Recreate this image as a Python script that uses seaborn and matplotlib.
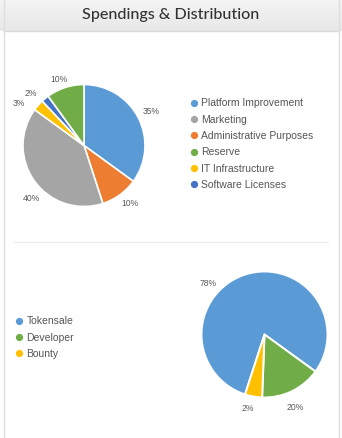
import numpy as np
import matplotlib
matplotlib.use("Agg")
import matplotlib.pyplot as plt
from matplotlib.lines import Line2D
import seaborn as sns

# ---- data ----
title = "Spendings & Distribution"

spend_labels = ["Platform Improvement", "Administrative Purposes", "Marketing",
                "IT Infrastructure", "Software Licenses", "Reserve"]
spend_values = [35, 10, 40, 3, 2, 10]
spend_colors = ["#5B9BD5", "#ED7D31", "#A5A5A5", "#FFC000", "#4472C4", "#70AD47"]
spend_legend_order = ["Platform Improvement", "Marketing", "Administrative Purposes",
                      "Reserve", "IT Infrastructure", "Software Licenses"]

dist_labels = ["Tokensale", "Developer", "Bounty"]
dist_values = [80, 15.6, 4.4]          # wedge sizes as drawn
dist_pct_text = ["78%", "20%", "2%"]   # labels as printed
dist_colors = ["#5B9BD5", "#70AD47", "#FFC000"]

# ---- layout ----
W, H, DPI = 342, 438, 100
sns.set_theme(style="white")
plt.rcParams['font.family'] = ['Liberation Sans', 'DejaVu Sans']

fig = plt.figure(figsize=(W / DPI, H / DPI), dpi=DPI)
fig.patch.set_facecolor("white")

def px_axes(x0, y0, w, h):
    return fig.add_axes([x0 / W, 1 - (y0 + h) / H, w / W, h / H])

# header with gradient
hax = px_axes(0, 0, W, 31)
grad = np.linspace(0, 1, 64).reshape(-1, 1)
hax.imshow(grad, aspect="auto", extent=[0, 1, 0, 1], cmap=matplotlib.colors.LinearSegmentedColormap.from_list(
    "g", ["#F4F4F4", "#E8E8E8"]), origin="upper")
hax.set_xlim(0, 1); hax.set_ylim(0, 1)
hax.axis("off")
hax.text(0.5, 0.5, title, ha="center", va="center", fontsize=11.6,
         color="#333333", family=["Lato", "DejaVu Sans"], fontweight="medium")

# overlay axes for lines
oax = px_axes(0, 0, W, H)
oax.set_xlim(0, W); oax.set_ylim(H, 0)
oax.axis("off")
oax.patch.set_alpha(0)
oax.plot([3.5, 3.5], [0, H], color="#DEDEDE", lw=1)
oax.plot([338.5, 338.5], [0, H], color="#DEDEDE", lw=1)
oax.plot([3.5, 338.5], [31, 31], color="#D8D8D8", lw=1)
oax.plot([14, 328], [241.5, 241.5], color="#EDEDED", lw=1)

def pie_axes(cx, cy, r, lim):
    size = 2 * lim * r
    ax = px_axes(cx - size / 2, cy - size / 2, size, size)
    return ax

# top pie
LIM = 1.3
ax1 = pie_axes(84, 145.5, 61, LIM)
ax1.pie(spend_values, colors=spend_colors, startangle=90, counterclock=False,
        wedgeprops=dict(edgecolor="white", linewidth=1.2))
ax1.set_xlim(-LIM, LIM); ax1.set_ylim(-LIM, LIM)
ax1.set_aspect("equal")
ax1.axis("off")
top_label_pos = [(1.10, 0.56), (0.75, -0.95), (-0.86, -0.87), (-1.07, 0.69), (-0.88, 0.86), (-0.41, 1.09)]
for v, (x, y) in zip(spend_values, top_label_pos):
    ax1.text(x, y, f"{v}%", ha="center", va="center", fontsize=6.2, color="#595959")

# top legend
cmap_sp = dict(zip(spend_labels, spend_colors))
handles = [Line2D([], [], marker="o", linestyle="", color=cmap_sp[l], markersize=4.2) for l in spend_legend_order]
leg1 = fig.legend(handles, spend_legend_order, loc="upper left",
                  bbox_to_anchor=(189.5 / W, 1 - 98.5 / H), frameon=False,
                  fontsize=7.5, labelcolor="#555555", handlelength=0.8,
                  handletextpad=0.35, labelspacing=0.6, borderpad=0, borderaxespad=0)

# bottom pie
LIM2 = 1.3
ax2 = pie_axes(264.5, 334.5, 63, LIM2)
ax2.pie(dist_values, colors=dist_colors, startangle=252, counterclock=False,
        wedgeprops=dict(edgecolor="white", linewidth=1.4))
ax2.set_xlim(-LIM2, LIM2); ax2.set_ylim(-LIM2, LIM2)
ax2.set_aspect("equal")
ax2.axis("off")
bot_label_pos = [(-0.90, 0.81), (0.49, -1.16), (-0.26, -1.17)]
for t, (x, y) in zip(dist_pct_text, bot_label_pos):
    ax2.text(x, y, t, ha="center", va="center", fontsize=6.2, color="#595959")

handles2 = [Line2D([], [], marker="o", linestyle="", color=c, markersize=4.2) for c in dist_colors]
leg2 = fig.legend(handles2, dist_labels, loc="upper left",
                  bbox_to_anchor=(14.5 / W, 1 - 316.5 / H), frameon=False,
                  fontsize=7.5, labelcolor="#555555", handlelength=0.8,
                  handletextpad=0.35, labelspacing=0.6, borderpad=0, borderaxespad=0)

fig.savefig("out.png", dpi=DPI)
